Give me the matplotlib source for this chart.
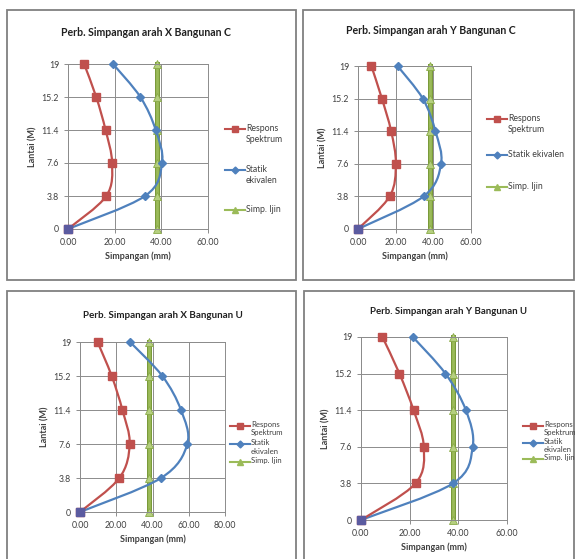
import numpy as np
import matplotlib
matplotlib.use('Agg')
import matplotlib.pyplot as plt
from matplotlib.path import Path
from matplotlib.patches import PathPatch, Rectangle
from matplotlib.lines import Line2D
import matplotlib.patheffects as pe

plt.rcParams['font.family'] = ['Lato', 'DejaVu Sans']

W, H = 575, 559

# data
lantai = [0, 3.8, 7.6, 11.4, 15.2, 19]
lantai_labels = ['0', '3.8', '7.6', '11.4', '15.2', '19']

titles = ['Perb. Simpangan arah X Bangunan C',
          'Perb. Simpangan arah Y Bangunan C',
          'Perb. Simpangan arah X Bangunan U',
          'Perb. Simpangan arah Y Bangunan U']

respons_xc = [0, 16.4, 18.9, 16.1, 12.1, 6.9]
statik_xc = [0, 33.0, 40.3, 37.6, 31.0, 19.3]
respons_yc = [0, 16.8, 20.1, 17.6, 12.7, 7.1]
statik_yc = [0, 34.8, 44.1, 41.1, 34.4, 21.0]
respons_xu = [0, 21.7, 27.4, 23.4, 17.5, 9.7]
statik_xu = [0, 44.7, 59.2, 55.7, 45.4, 27.6]
respons_yu = [0, 22.4, 25.8, 21.6, 15.8, 8.8]
statik_yu = [0, 37.8, 45.9, 43.1, 34.7, 21.3]
simp_ijin = 38.0

xmax = [60, 60, 80, 60]
legend_names = ['Respons\nSpektrum', 'Statik\nekivalen', 'Simp. Ijin']
legend_names_2 = ['Respons\nSpektrum', 'Statik ekivalen', 'Simp. Ijin']

RED, BLUE, GREEN = '#C0504D', '#4F81BD', '#9BBB59'
GRID = '#8c8c8c'
TXT = '#404040'

fig = plt.figure(figsize=(W / 100, H / 100), dpi=100)
fig.patch.set_facecolor('white')


def px_axes(l, t, r, b):
    return fig.add_axes([l / W, 1 - b / H, (r - l) / W, (b - t) / H])


def smooth(ax, xs, ys, color, lw=1.6):
    pts = np.column_stack([xs, ys]).astype(float)
    n = len(pts)
    verts = [pts[0]]
    codes = [Path.MOVETO]
    for i in range(n - 1):
        p0 = pts[max(i - 1, 0)]
        p1 = pts[i]
        p2 = pts[i + 1]
        p3 = pts[min(i + 2, n - 1)]
        verts += [p1 + (p2 - p0) / 6, p2 - (p3 - p1) / 6, p2]
        codes += [Path.CURVE4] * 3
    ax.add_patch(PathPatch(Path(verts, codes), fill=False, edgecolor=color,
                           lw=lw, zorder=3, clip_on=False))


# panel boxes and plot areas in pixels (left, top, right, bottom)
boxes = [(7, 10, 296, 280), (303, 10, 574, 280),
         (7, 291, 296, 562), (304, 291, 574, 562)]
plots = [(68, 64, 208, 229), (358, 66, 471, 229),
         (80, 342, 225, 512), (361, 337, 507, 520)]
title_pos = [(146, 33), (431, 30), (163, 315), (448, 312)]
title_size = [7.6, 7.6, 7.1, 6.9]
legend_pos = [(225, [129, 170, 210]), (487, [119, 155, 187]),
              (230, [426, 444, 462]), (523, [426, 443, 459])]
series = [(respons_xc, statik_xc), (respons_yc, statik_yc),
          (respons_xu, statik_xu), (respons_yu, statik_yu)]

for k in range(4):
    l, t, r, b = boxes[k]
    fig.patches.append(Rectangle((l / W, 1 - b / H), (r - l) / W, (b - t) / H,
                                 transform=fig.transFigure, fill=False,
                                 edgecolor='#808080', lw=1.3))
    ax = px_axes(*plots[k])
    resp, stat = series[k]

    ax.set_xlim(0, xmax[k])
    ax.set_ylim(0, 19)
    ax.set_xticks(np.arange(0, xmax[k] + 1, 20))
    ax.set_xticklabels(['%.2f' % v for v in np.arange(0, xmax[k] + 1, 20)])
    ax.set_yticks(lantai)
    ax.set_yticklabels(lantai_labels)
    ax.grid(True, color=GRID, lw=0.7)
    ax.set_axisbelow(True)
    for s in ax.spines.values():
        s.set_color(GRID)
        s.set_linewidth(0.7)
    ax.tick_params(axis='both', labelsize=6.3, colors=TXT, length=3,
                   width=0.7, color=GRID)
    ax.set_xlabel('Simpangan (mm)', fontsize=6.5, fontweight='bold',
                  color=TXT, labelpad=3)
    ax.set_ylabel('Lantai (M)', fontsize=6.5, fontweight='bold',
                  color=TXT, labelpad=3)

    # allowable drift: thick line with darker rim, markers on top
    ax.plot([simp_ijin] * len(lantai), lantai, color=GREEN, lw=2.0,
            zorder=2, clip_on=False,
            path_effects=[pe.Stroke(linewidth=3.6, foreground='#7a9a3a'),
                          pe.Normal()])
    ax.plot([simp_ijin] * len(lantai), lantai, ls='none', marker='^', ms=6,
            color='#b5cf7f', markeredgecolor='#8aab48', markeredgewidth=0.6,
            zorder=2.5, clip_on=False)
    smooth(ax, stat, lantai, BLUE)
    smooth(ax, resp, lantai, RED)
    ax.plot(resp, lantai, ls='none', marker='s', ms=5.5, color=RED,
            zorder=4, clip_on=False)
    ax.plot(stat, lantai, ls='none', marker='D', ms=4, color=BLUE,
            zorder=5, clip_on=False)
    ax.plot([0], [0], ls='none', marker='s', ms=5.5, color='#5b5ba0',
            zorder=6, clip_on=False)

    tx, ty = title_pos[k]
    fig.text(tx / W, 1 - ty / H, titles[k], ha='center', va='center',
             fontsize=title_size[k], fontweight='bold', color='#202020')

    lx, lys = legend_pos[k]
    names = legend_names_2 if k == 1 else legend_names
    fs = 6.3 if k < 2 else 5.6
    for name, yy, c, m, ms in zip(names, lys, [RED, BLUE, GREEN],
                                  ['s', 'D', '^'], [5, 3.5, 4.5]):
        fig.lines.append(Line2D([lx / W, (lx + 20) / W],
                                [1 - yy / H, 1 - yy / H],
                                transform=fig.transFigure, color=c, lw=1.5,
                                marker=None))
        fig.lines.append(Line2D([(lx + 10) / W], [1 - yy / H],
                                transform=fig.transFigure, color=c,
                                marker=m, ms=ms, ls='none'))
        fig.text((lx + 21) / W, 1 - (yy - 5) / H, name, ha='left', va='top',
                 fontsize=fs, color=TXT, linespacing=1.25)

fig.savefig('out.png', dpi=100, facecolor='white')
